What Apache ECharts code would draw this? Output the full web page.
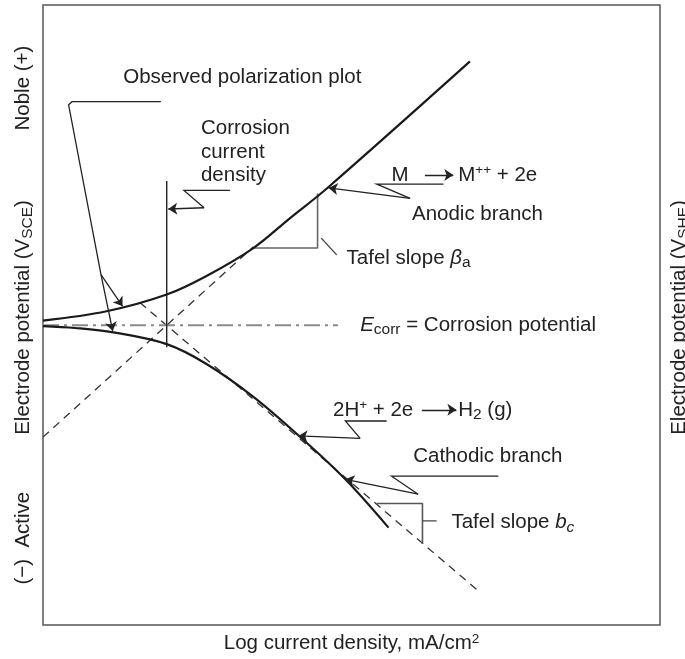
<!DOCTYPE html>
<html>
<head>
<meta charset="utf-8">
<script src="https://cdn.jsdelivr.net/npm/echarts@6/dist/echarts.min.js"></script>
<style>
  html, body { margin: 0; padding: 0; background: #fff; }
</style>
</head>
<body>
<div id="main" style="width: 685px;height:659px;"></div>

<script>
// arbitrary units: x = log current density (0..100), y = potential (0..100)
var anodicCurve = [[0, 49.1], [10.3, 50.6], [20.05, 53.3], [26.5, 56.3], [34.1, 60.8], [40.0, 65.6], [46.0, 70.4], [69.2, 90.9]];
var cathodicCurve = [[0, 48.2], [5.2, 47.9], [11.4, 47.2], [20.05, 45.3], [26.5, 42.1], [34.1, 36.8], [41.6, 30.4], [49.0, 23.5], [56.0, 15.7]];
var anodicTafel = [[0, 30.3], [34.1, 61.0]];
var cathodicTafel = [[15.7, 52.0], [70.8, 5.3]];
var ecorrLine = [[0, 48.35], [47.8, 48.35]];
var icorrLine = [[20.05, 71.6], [20.05, 44.8]];
var tafelA = [[34.1, 60.8], [44.5, 60.8], [44.5, 69.6]];
var tafelATick = [[45.1, 62.4], [47.6, 59.7]];
var tafelC = [[54.1, 19.6], [61.5, 19.6], [61.5, 13.1]];
var tafelCTick = [[61.5, 16.8], [63.8, 16.8]];

var leaderPaths = [
    [[19.1, 84.4], [4.7, 84.4], [4.15, 83.9], [9.4, 56.5]],
    [[30.3, 70.1], [22.85, 70.1], [26.1, 67.3]],
    [[64.9, 71.1], [54.1, 71.1], [59.5, 68.8]],
    [[55.7, 32.9], [49.0, 32.9], [51.4, 30.1]],
    [[73.8, 24.0], [56.5, 24.0], [60.8, 21.1]]
];
var arrowSegments = [
    [[9.4, 56.5], [11.3, 47.4]],
    [[9.4, 56.5], [12.9, 51.4]],
    [[26.1, 67.3], [20.3, 67.1]],
    [[59.5, 68.8], [46.3, 70.5]],
    [[51.4, 30.1], [41.4, 30.5]],
    [[60.8, 21.1], [49.0, 23.5]],
    [[61.9, 72.6], [66.5, 72.6]],
    [[61.4, 34.7], [67.0, 34.7]]
];

var labelAnchors = [[13.0, 88.4], [25.6, 76.3], [56.5, 72.6], [67.3, 72.6], [59.8, 66.2], [49.2, 59.1],
    [51.4, 48.3], [47.0, 34.7], [67.3, 34.7], [60.0, 27.2], [66.2, 16.5]];
var labelTexts = ['Observed polarization plot', 'Corrosion\ncurrent\ndensity', 'M', 'M{sup|++} + 2e', 'Anodic branch',
    'Tafel slope {it|β}{sub|a}', '{it|E}{sub|corr} = Corrosion potential', '2H{sup|+} + 2e', 'H{sub|2} (g)',
    'Cathodic branch', 'Tafel slope {it|b}{subit|c}'];

var sideLabelY = [86.6, 49.6, 14.0];
var sideLabelTexts = ['Noble (+)', 'Electrode potential (V{sub|SCE})', '(−)  Active'];
var rightLabelText = 'Electrode potential (V{sub|SHE})';
var xAxisTitle = 'Log current density, mA/cm{sup|2}';

var FONT = "'Liberation Sans', Arial, sans-serif";
var INK = '#222';
var FS = 20.5;
var rich = {
    sup: { fontFamily: FONT, fontSize: 13.5, padding: [0, 0, 9, 0], fill: INK, color: INK },
    sub: { fontFamily: FONT, fontSize: 15.5, padding: [9, 0, 0, 0], fill: INK, color: INK },
    it: { fontFamily: FONT, fontSize: FS, fontStyle: 'italic', fill: INK, color: INK },
    subit: { fontFamily: FONT, fontSize: 15.5, fontStyle: 'italic', padding: [9, 0, 0, 0], fill: INK, color: INK }
};

var myChart = echarts.init(document.getElementById('main'));

function lineSeries(data, width, color, type, smooth) {
    return {
        type: 'line', data: data, symbol: 'none', smooth: smooth || false,
        lineStyle: { width: width, color: color, type: type || 'solid' },
        silent: true, z: 3
    };
}

var option = {
    backgroundColor: '#fff',
    animation: false,
    grid: { left: 43, right: 25, top: 5, bottom: 30, show: true, borderColor: '#555', borderWidth: 1.5 },
    xAxis: {
        type: 'value', min: 0, max: 100,
        axisLine: { show: false }, axisTick: { show: false }, axisLabel: { show: false }, splitLine: { show: false },
        name: xAxisTitle, nameLocation: 'middle', nameGap: 7,
        nameTextStyle: { fontFamily: FONT, fontSize: FS, color: INK, verticalAlign: 'top', rich: rich }
    },
    yAxis: {
        type: 'value', min: 0, max: 100,
        axisLine: { show: false }, axisTick: { show: false }, axisLabel: { show: false }, splitLine: { show: false }
    },
    series: [
        lineSeries(anodicTafel, 1.3, '#333', [8, 6]),
        lineSeries(cathodicTafel, 1.3, '#333', [8, 6]),
        lineSeries(ecorrLine, 2, '#8a8a8a', [16, 5, 3, 5]),
        lineSeries(icorrLine, 1.4, INK),
        lineSeries(tafelA, 1.6, '#666'),
        lineSeries(tafelATick, 1.4, '#444'),
        lineSeries(tafelC, 1.6, '#555'),
        lineSeries(tafelCTick, 1.4, '#444'),
        lineSeries(anodicCurve, 2.2, '#1a1a1a', 'solid', 0.35),
        lineSeries(cathodicCurve, 2.2, '#1a1a1a', 'solid', 0.35),
        {
            type: 'lines', coordinateSystem: 'cartesian2d', polyline: true, silent: true, z: 4,
            lineStyle: { color: INK, width: 1.3, opacity: 1 },
            data: leaderPaths.map(function (p) { return { coords: p }; })
        },
        {
            type: 'lines', coordinateSystem: 'cartesian2d', silent: true, z: 4,
            symbol: ['none', 'arrow'], symbolSize: 9,
            lineStyle: { color: INK, width: 1.3, opacity: 1 },
            data: arrowSegments.map(function (p) { return { coords: p }; })
        }
    ]
};
myChart.setOption(option);

// texts placed at data anchors through the grid's own scales
var graphics = [];
labelAnchors.forEach(function (a, i) {
    var p = myChart.convertToPixel({ gridIndex: 0 }, a);
    graphics.push({
        type: 'text', x: p[0], y: p[1], silent: true, z: 10,
        style: {
            text: labelTexts[i], rich: rich, fill: INK,
            fontFamily: FONT, fontSize: FS, align: 'left', verticalAlign: 'middle', lineHeight: 23.3
        }
    });
});
var leftX = myChart.convertToPixel({ gridIndex: 0 }, [0, 0])[0] - 20;
sideLabelY.forEach(function (yv, i) {
    var py = myChart.convertToPixel({ gridIndex: 0 }, [0, yv])[1];
    graphics.push({
        type: 'text', x: leftX, y: py, rotation: Math.PI / 2, silent: true,
        style: {
            text: sideLabelTexts[i], rich: rich, fill: INK, fontFamily: FONT, fontSize: FS,
            align: 'center', verticalAlign: 'middle'
        }
    });
});
var rightP = myChart.convertToPixel({ gridIndex: 0 }, [100, 49.6]);
graphics.push({
    type: 'text', x: rightP[0] + 19, y: rightP[1], rotation: Math.PI / 2, silent: true,
    style: {
        text: rightLabelText, rich: rich, fill: INK, fontFamily: FONT, fontSize: FS,
        align: 'center', verticalAlign: 'middle'
    }
});
myChart.setOption({ graphic: graphics });
</script>
</body>
</html>
